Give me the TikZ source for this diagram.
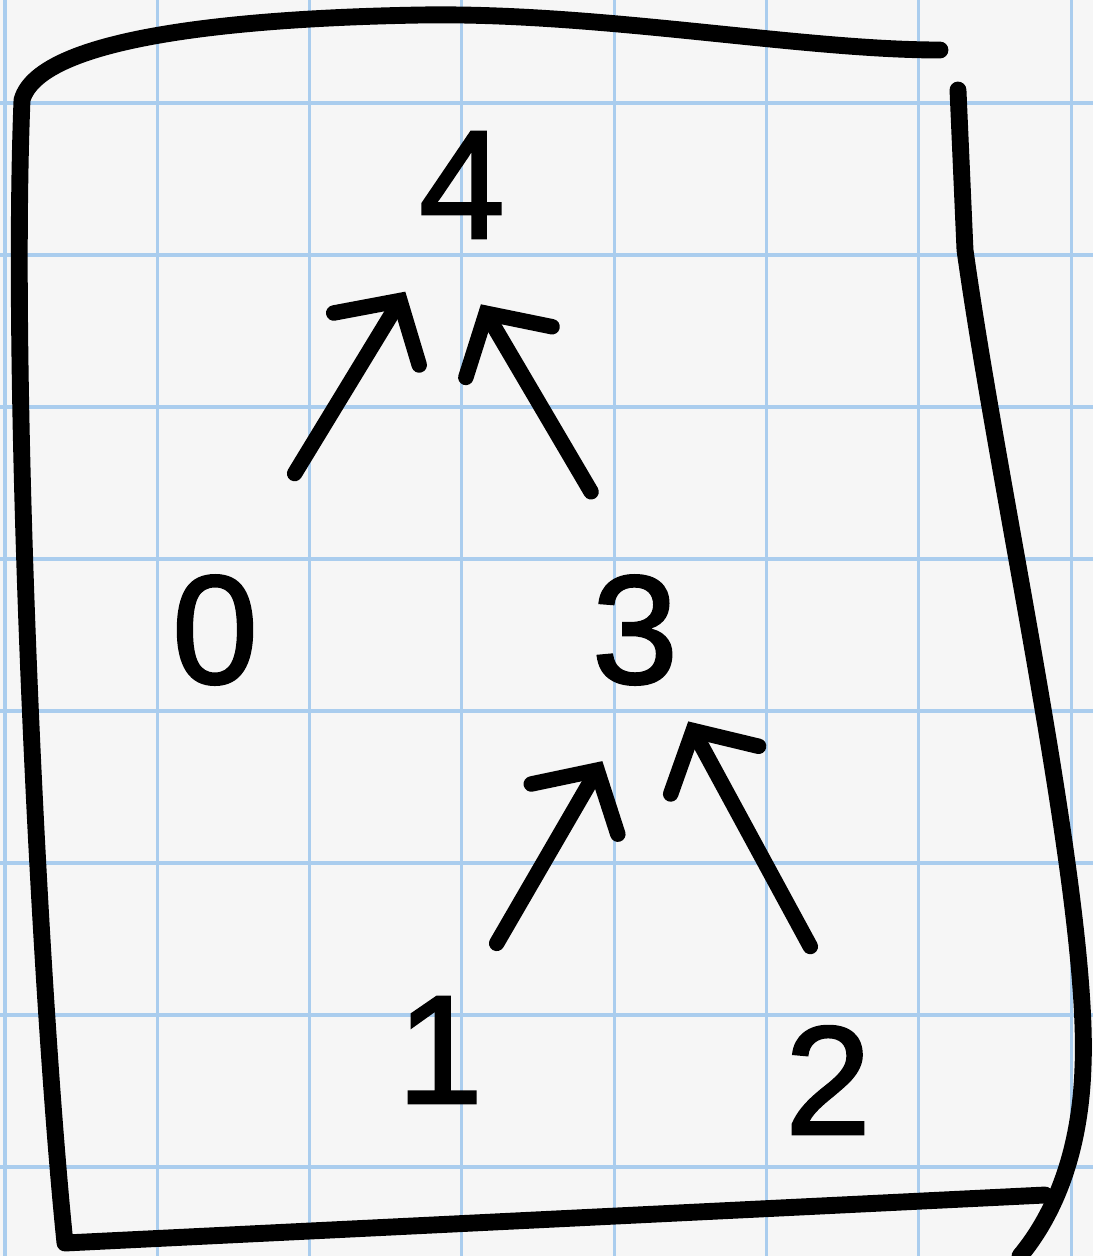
\documentclass[tikz,border=0pt]{standalone}
\usepackage{fontspec}
\setmainfont[UprightFeatures={FakeBold=1.6}]{Liberation Sans}
\usetikzlibrary{arrows.meta,positioning}
\definecolor{PaperBg}{RGB}{246,246,246}
\definecolor{GridBlue}{RGB}{170,205,238}
\tikzset{
  gridline/.style={draw=GridBlue,line width=0.9pt},
  digit/.style={circle,minimum size=2.4cm,inner sep=0pt,
    font=\fontsize{44}{44}\selectfont},
  sketcharrow/.style={-{Straight Barb[length=4.5mm,width=10mm,line cap=round]},
    line width=4.4pt,line cap=round,draw=black},
  frame/.style={draw=black,line width=4.8pt,line cap=round,line join=round},
}

\begin{document}
\begin{tikzpicture}[x=0.01cm,y=-0.01cm]
  % paper
  \fill[PaperBg] (0,0) rectangle (1093,1256);
  \useasboundingbox (0,0) rectangle (1093,1256);
  \foreach \i in {0,...,7} {
    \draw[gridline] ({5+152.3*\i},0) -- ++(0,1256);
    \draw[gridline] (0,{103+152*\i}) -- ++(1093,0);
  }
  % hand drawn frame
  \draw[frame] (940,50) .. controls (800,50) and (600,12) .. (420,15)
    .. controls (250,18) and (40,35) .. (22,100)
    .. controls (10,400) and (40,1000) .. (65,1243)
    -- (1045,1195);
  \draw[frame] (958,90) -- (965,250)
    .. controls (1000,500) and (1090,900) .. (1083,1067)
    .. controls (1080,1160) and (1050,1220) .. (1020,1256);
  % digits
  \node[digit] (n4) at (462,185) {4};
  \node[digit] (n0) at (215,630) {0};
  \node[digit] (n3) at (635,630) {3};
  \node[digit] (n1) at (440,1050) {1};
  \node[digit] (n2) at (828,1080) {2};
  % arrows
  \draw[sketcharrow,shorten <=5.5mm] (n0.65) -- (n4.-118);
  \draw[sketcharrow,shorten <=2.5mm] (n3.105) -- (n4.-81);
  \draw[sketcharrow,shorten >=1.5mm] (n1.62) -- (n3.-102);
  \draw[sketcharrow,shorten <=1.5mm,shorten >=-1.5mm] (n2.95) -- (n3.-60);
\end{tikzpicture}
\end{document}
